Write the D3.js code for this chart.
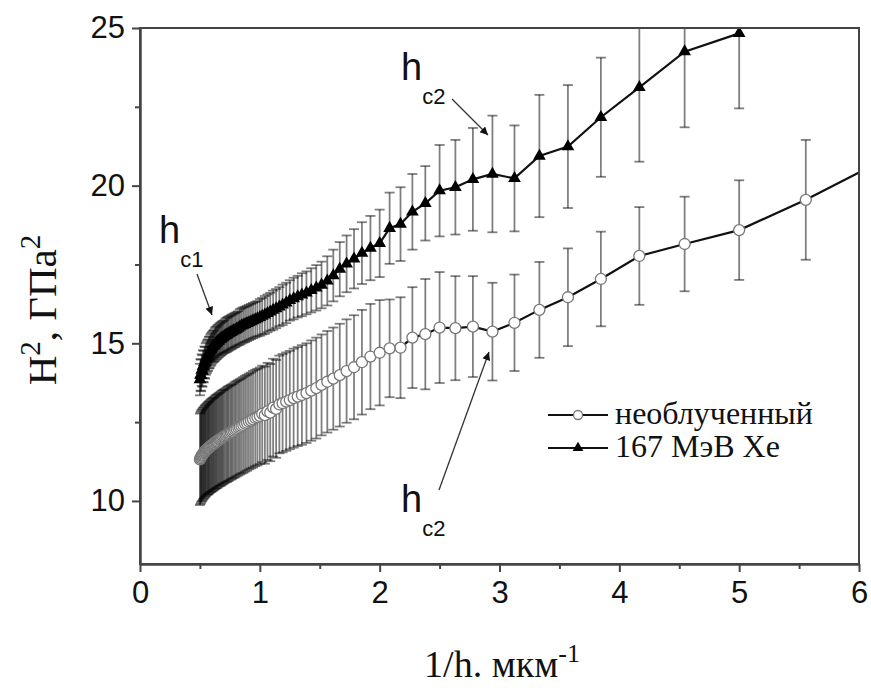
<!DOCTYPE html>
<html>
<head>
<meta charset="utf-8">
<script src="https://cdnjs.cloudflare.com/ajax/libs/d3/7.8.5/d3.min.js"></script>
<style>
body { margin: 0; background: #fff; }
</style>
</head>
<body>
<div id="chart"></div>
<script>
// 1/h values (h from 2.00 um down to 0.16 um, step 0.02)
var invDepth = [0.500,0.505,0.510,0.515,0.521,0.526,0.532,0.538,0.543,0.549,
                0.556,0.562,0.568,0.575,0.581,0.588,0.595,0.602,0.610,0.617,
                0.625,0.633,0.641,0.649,0.658,0.667,0.676,0.685,0.694,0.704,
                0.714,0.725,0.735,0.746,0.758,0.769,0.781,0.794,0.806,0.820,
                0.833,0.847,0.862,0.877,0.893,0.909,0.926,0.943,0.962,0.980,
                1.000,1.020,1.042,1.064,1.087,1.111,1.136,1.163,1.190,1.220,
                1.250,1.282,1.316,1.351,1.389,1.429,1.471,1.515,1.563,1.613,
                1.667,1.724,1.786,1.852,1.923,2.000,2.083,2.174,2.273,2.381,
                2.500,2.632,2.778,2.941,3.125,3.333,3.571,3.846,4.167,4.545,
                5.000,5.556,6.250];

// необлученный (open circles)
var unirrY = [11.32,11.36,11.40,11.44,11.46,11.50,11.52,11.55,11.58,11.60,
              11.63,11.65,11.67,11.69,11.71,11.74,11.76,11.78,11.80,11.82,
              11.85,11.87,11.89,11.91,11.94,11.96,11.98,12.01,12.03,12.05,
              12.08,12.10,12.13,12.15,12.18,12.20,12.23,12.26,12.29,12.32,
              12.35,12.38,12.41,12.45,12.48,12.52,12.55,12.59,12.63,12.66,
              12.70,12.76,12.72,12.84,12.80,12.96,12.92,13.06,13.10,13.15,
              13.20,13.26,13.31,13.36,13.42,13.50,13.58,13.68,13.78,13.88,
              13.99,14.12,14.24,14.40,14.58,14.70,14.84,14.86,15.18,15.29,
              15.50,15.48,15.53,15.37,15.65,16.06,16.46,17.04,17.77,18.15,
              18.59,19.55,20.90];
var unirrErr = [1.45,1.45,1.45,1.45,1.45,1.45,1.45,1.45,1.45,1.45,
                1.45,1.45,1.46,1.46,1.46,1.46,1.47,1.47,1.47,1.47,
                1.47,1.48,1.48,1.48,1.48,1.48,1.49,1.49,1.49,1.49,
                1.49,1.50,1.50,1.50,1.50,1.50,1.50,1.51,1.51,1.51,
                1.51,1.51,1.52,1.52,1.52,1.52,1.52,1.53,1.53,1.53,
                1.53,1.53,1.54,1.54,1.54,1.55,1.55,1.55,1.56,1.56,
                1.56,1.57,1.57,1.58,1.58,1.59,1.60,1.60,1.61,1.62,
                1.63,1.64,1.65,1.66,1.67,1.67,1.55,1.60,1.60,1.75,
                1.76,1.65,1.60,1.55,1.53,1.52,1.55,1.50,1.55,1.50,
                1.58,1.90,2.00];

// 167 МэВ Хе (filled triangles), h from 2.00 to 0.20
var xeY = [13.85,14.00,13.98,14.15,14.12,14.28,14.26,14.40,14.38,14.50,
           14.55,14.60,14.63,14.70,14.72,14.78,14.82,14.86,14.90,14.92,
           14.96,15.00,15.02,15.06,15.08,15.12,15.14,15.17,15.19,15.22,
           15.25,15.27,15.30,15.32,15.35,15.37,15.40,15.42,15.45,15.48,
           15.52,15.55,15.58,15.60,15.63,15.66,15.69,15.72,15.75,15.78,
           15.82,15.86,15.90,15.95,16.00,16.05,16.10,16.16,16.22,16.28,
           16.36,16.42,16.48,16.54,16.60,16.68,16.76,16.85,16.98,17.15,
           17.35,17.52,17.68,17.86,18.02,18.17,18.65,18.78,19.17,19.44,
           19.84,19.95,20.20,20.37,20.23,20.94,21.24,22.17,23.12,24.25,
           24.83];
var xeErr = [0.50,0.50,0.50,0.50,0.50,0.50,0.50,0.50,0.50,0.50,
             0.50,0.50,0.50,0.50,0.50,0.50,0.50,0.50,0.50,0.50,
             0.52,0.52,0.52,0.52,0.52,0.52,0.52,0.52,0.52,0.52,
             0.54,0.54,0.54,0.54,0.54,0.54,0.54,0.54,0.54,0.54,
             0.56,0.56,0.56,0.56,0.56,0.56,0.56,0.56,0.56,0.56,
             0.58,0.58,0.60,0.60,0.60,0.62,0.62,0.62,0.64,0.64,
             0.64,0.66,0.66,0.68,0.68,0.70,0.72,0.74,0.78,0.82,
             0.86,0.90,0.94,0.98,1.02,1.07,1.13,1.17,1.20,1.18,
             1.45,1.50,1.63,1.85,1.68,1.94,1.95,1.89,2.36,2.40,
             2.38];

var xTicks = [0, 1, 2, 3, 4, 5, 6];
var xMinorTicks = [0.5, 1.5, 2.5, 3.5, 4.5, 5.5];
var yTicks = [10, 15, 20, 25];
var yMinorTicks = [12.5, 17.5, 22.5];
var legendLabels = ["необлученный", "167 МэВ Хе"];

var width = 871, height = 688;
var margin = {top: 28, right: 12, bottom: 124, left: 140};
var plotW = width - margin.left - margin.right;
var plotH = height - margin.top - margin.bottom;

var svg = d3.select("#chart")
            .append("svg")
            .attr("width", width)
            .attr("height", height);

var x = d3.scaleLinear().domain([0, 6]).range([margin.left, margin.left + plotW]);
var y = d3.scaleLinear().domain([8, 25]).range([margin.top + plotH, margin.top]);

var defs = svg.append("defs");
defs.append("clipPath").attr("id", "plotClip")
    .append("rect")
    .attr("x", margin.left).attr("y", margin.top)
    .attr("width", plotW).attr("height", plotH);
defs.append("marker")
    .attr("id", "arrowHead")
    .attr("viewBox", "0 0 10 10")
    .attr("refX", 10).attr("refY", 5)
    .attr("markerWidth", 11).attr("markerHeight", 8)
    .attr("markerUnits", "userSpaceOnUse")
    .attr("orient", "auto")
    .append("path")
    .attr("d", "M0,0 L10,5 L0,10 z")
    .attr("fill", "#111");

var unirr = invDepth.map(function(d, i) { return {x: d, y: unirrY[i], e: unirrErr[i]}; });
var xe = xeY.map(function(d, i) { return {x: invDepth[i], y: d, e: xeErr[i]}; });

var gPlot = svg.append("g").attr("clip-path", "url(#plotClip)");

/***** error bars ******/
function drawErrorBars(data, cls) {
    var g = gPlot.append("g").attr("class", cls)
                 .attr("stroke", "rgba(0,0,0,0.5)")
                 .attr("stroke-width", 1.8)
                 .attr("fill", "none");
    g.selectAll("line.bar").data(data).enter().append("line")
     .attr("class", "bar")
     .attr("x1", function(d) { return x(d.x); })
     .attr("x2", function(d) { return x(d.x); })
     .attr("y1", function(d) { return y(d.y - d.e); })
     .attr("y2", function(d) { return y(d.y + d.e); });
    g.selectAll("line.capTop").data(data).enter().append("line")
     .attr("class", "capTop")
     .attr("x1", function(d) { return x(d.x) - 5; })
     .attr("x2", function(d) { return x(d.x) + 5; })
     .attr("y1", function(d) { return y(d.y + d.e); })
     .attr("y2", function(d) { return y(d.y + d.e); });
    g.selectAll("line.capBot").data(data).enter().append("line")
     .attr("class", "capBot")
     .attr("x1", function(d) { return x(d.x) - 5; })
     .attr("x2", function(d) { return x(d.x) + 5; })
     .attr("y1", function(d) { return y(d.y - d.e); })
     .attr("y2", function(d) { return y(d.y - d.e); });
}

drawErrorBars(unirr, "errUnirr");
drawErrorBars(xe, "errXe");

var line = d3.line().x(function(d) { return x(d.x); }).y(function(d) { return y(d.y); });

gPlot.append("path").datum(unirr)
     .attr("d", line).attr("fill", "none")
     .attr("stroke", "#111").attr("stroke-width", 2.2);
gPlot.append("path").datum(xe)
     .attr("d", line).attr("fill", "none")
     .attr("stroke", "#111").attr("stroke-width", 2.2);

gPlot.selectAll("circle.mUnirr").data(unirr).enter().append("circle")
     .attr("class", "mUnirr")
     .attr("cx", function(d) { return x(d.x); })
     .attr("cy", function(d) { return y(d.y); })
     .attr("r", 5.5)
     .attr("fill", "#fff")
     .attr("stroke", "#777")
     .attr("stroke-width", 1.3);

var tri = d3.symbol().type(d3.symbolTriangle).size(70);
gPlot.selectAll("path.mXe").data(xe).enter().append("path")
     .attr("class", "mXe")
     .attr("transform", function(d) { return "translate(" + x(d.x) + "," + y(d.y) + ")"; })
     .attr("d", tri)
     .attr("fill", "#000");

/***** axes & frame ******/
var axisColor = "#444";
svg.append("g")
   .attr("transform", "translate(0," + (margin.top + plotH) + ")")
   .call(d3.axisBottom(x).tickValues(xTicks).tickSize(8).tickSizeOuter(0).tickPadding(9)
           .tickFormat(d3.format("d")));
svg.append("g")
   .attr("transform", "translate(0," + (margin.top + plotH) + ")")
   .call(d3.axisBottom(x).tickValues(xMinorTicks).tickSize(5).tickSizeOuter(0).tickFormat(""));
svg.append("g")
   .attr("transform", "translate(" + margin.left + ",0)")
   .call(d3.axisLeft(y).tickValues(yTicks).tickSize(8).tickSizeOuter(0).tickPadding(7));
svg.append("g")
   .attr("transform", "translate(" + margin.left + ",0)")
   .call(d3.axisLeft(y).tickValues(yMinorTicks).tickSize(5).tickSizeOuter(0).tickFormat(""));

svg.selectAll(".domain, .tick line").attr("stroke", axisColor).attr("stroke-width", 2);
svg.selectAll(".tick text")
   .style("font-family", "Arial, 'Liberation Sans', sans-serif")
   .style("font-size", "31px")
   .attr("fill", "#111");

svg.append("rect")
   .attr("x", margin.left).attr("y", margin.top)
   .attr("width", plotW).attr("height", plotH)
   .attr("fill", "none").attr("stroke", axisColor).attr("stroke-width", 2);

/***** axis titles ******/
var yTitle = svg.append("text")
   .attr("transform", "translate(56," + (margin.top + plotH / 2 + 14) + ") rotate(-90)")
   .attr("text-anchor", "middle")
   .style("font-family", "'Times New Roman', 'Liberation Serif', serif")
   .style("font-size", "41px")
   .attr("fill", "#111");
yTitle.append("tspan").text("H");
yTitle.append("tspan").attr("dy", -16).style("font-size", "29px").text("2");
yTitle.append("tspan").attr("dy", 16).text(", ГПа");
yTitle.append("tspan").attr("dy", -16).style("font-size", "29px").text("2");

var xTitle = svg.append("text")
   .attr("x", 502).attr("y", 677)
   .attr("text-anchor", "middle")
   .style("font-family", "'Times New Roman', 'Liberation Serif', serif")
   .style("font-size", "38px")
   .attr("fill", "#111");
xTitle.append("tspan").text("1/h. мкм");
xTitle.append("tspan").attr("dy", -15).style("font-size", "26px").text("-1");

/***** annotations ******/
function addLabel(px, py, sub) {
    var t = svg.append("text")
       .attr("x", px).attr("y", py)
       .style("font-family", "Arial, 'Liberation Sans', sans-serif")
       .attr("fill", "#111");
    t.append("tspan").style("font-size", "38px").text("h");
    t.append("tspan").attr("dy", 24).style("font-size", "22px").text(sub);
}
function addArrow(x1, y1, x2, y2) {
    svg.append("line")
       .attr("x1", x1).attr("y1", y1).attr("x2", x2).attr("y2", y2)
       .attr("stroke", "#333").attr("stroke-width", 1.3)
       .attr("marker-end", "url(#arrowHead)");
}

addLabel(401, 80, "c2");
addArrow(452, 99, 488, 135);
addLabel(159, 243, "c1");
addArrow(197, 274, 212, 315);
addLabel(401, 512, "c2");
addArrow(439, 490, 489, 352);

/***** legend ******/
var legend = svg.append("g").attr("class", "legend");
var legendY = [415, 448];
legend.selectAll("line.lg").data(legendLabels).enter().append("line")
      .attr("x1", 548).attr("x2", 608)
      .attr("y1", function(d, i) { return legendY[i]; })
      .attr("y2", function(d, i) { return legendY[i]; })
      .attr("stroke", "#111").attr("stroke-width", 2.2);
legend.append("circle")
      .attr("cx", 578).attr("cy", legendY[0]).attr("r", 4.5)
      .attr("fill", "#fff").attr("stroke", "#777").attr("stroke-width", 1.3);
legend.append("path")
      .attr("transform", "translate(578," + legendY[1] + ")")
      .attr("d", d3.symbol().type(d3.symbolTriangle).size(50))
      .attr("fill", "#000");
legend.selectAll("text").data(legendLabels).enter().append("text")
      .attr("x", 615)
      .attr("y", function(d, i) { return legendY[i] + 9; })
      .style("font-family", "'Times New Roman', 'Liberation Serif', serif")
      .style("font-size", "32px")
      .attr("fill", "#111")
      .text(function(d) { return d; });
</script>
</body>
</html>
